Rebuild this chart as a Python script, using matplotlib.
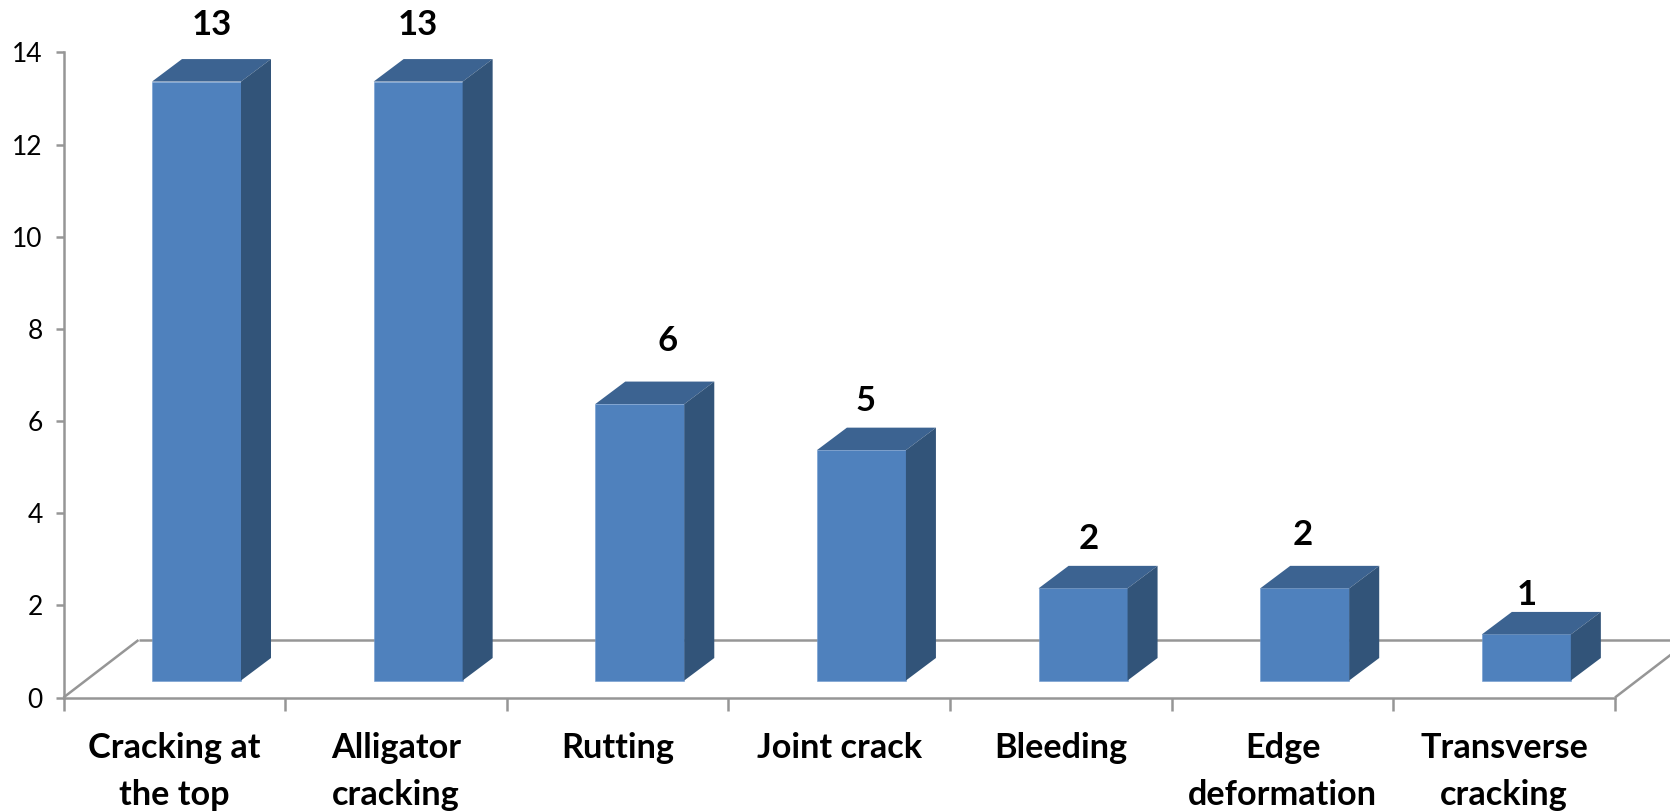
import matplotlib.pyplot as plt

# Distress types and number of occurrences
categories = ['Cracking at\nthe top', 'Alligator\ncracking', 'Rutting', 'Joint crack',
              'Bleeding', 'Edge\ndeformation', 'Transverse\ncracking']
counts = [13, 13, 6, 5, 2, 2, 1]
y_ticks = [0, 2, 4, 6, 8, 10, 12, 14]

# Pixel sizes of the figure and of the plot box
W, H = 1670, 811
X0, X1 = 63.5, 1615
Y0, Y14 = 697.5, 52.5
UX = (X1 - X0) / 7
UY = (Y0 - Y14) / 14

# Fake 3D depth, converted to data units
DX = 30 / UX
DY = 22.5 / UY
BASE = 17 / UY        # front face floats above the axis
BAR_W = 89 / UX
BAR_OFF = 88.5 / UX

FRONT = '#4f81bd'
TOP = '#3c6391'
SIDE = '#325479'
GREY = '#969696'

# Label nudges in pixels, (right, up) from the bar's top centre
label_dx = [0, -15, 13, -11, -9, -17, -15]
label_dy = [57, 57, 63, 49, 49, 53, 39]

plt.rcParams['font.family'] = ['Lato', 'DejaVu Sans']

fig = plt.figure(figsize=(W / 100, H / 100), dpi=100)
ax = fig.add_axes([X0 / W, (H - Y0) / H, (X1 - X0) / W, (Y0 - Y14) / H])
ax.set_xlim(0, 7)
ax.set_ylim(0, 14)

for s in ['top', 'right']:
    ax.spines[s].set_visible(False)
for s in ['left', 'bottom']:
    ax.spines[s].set_color(GREY)
    ax.spines[s].set_linewidth(1.8)

# Floor of the box
back_y = (Y0 - 640) / UY
floor_dx = 75 / UX
line_kw = dict(color=GREY, lw=1.8, clip_on=False, zorder=1, solid_capstyle='butt')
ax.plot([0, floor_dx], [0, back_y], **line_kw)
ax.plot([7, 7 + floor_dx], [0, back_y], **line_kw)
ax.plot([floor_dx, 7 + floor_dx], [back_y, back_y], **line_kw)

for i, v in enumerate(counts):
    x = i + BAR_OFF
    top = BASE + v
    ax.bar(x, v, width=BAR_W, bottom=BASE, align='edge', color=FRONT,
           edgecolor='#6f9bd0', linewidth=0.4, zorder=3, clip_on=False)
    ax.fill([x, x + DX, x + BAR_W + DX, x + BAR_W], [top, top + DY, top + DY, top],
            color=TOP, lw=0, zorder=3, clip_on=False)
    ax.fill([x + BAR_W, x + BAR_W + DX, x + BAR_W + DX, x + BAR_W],
            [BASE, BASE + DY, top + DY, top], color=SIDE, lw=0, zorder=3, clip_on=False)
    ax.annotate(str(v), xy=(x + BAR_W / 2 + DX / 2, top),
                xytext=(label_dx[i] * 0.72, label_dy[i] * 0.72), textcoords='offset points',
                ha='center', va='center', fontsize=25, fontweight='bold',
                color='black', annotation_clip=False)

ax.set_yticks(y_ticks)
ax.tick_params(axis='y', length=6, width=1.8, color=GREY, pad=9, labelsize=19)

ax.set_xticks(range(8))
ax.set_xticklabels([])
ax.tick_params(axis='x', which='major', length=9, width=1.8, color=GREY)
ax.set_xticks([i + 0.5 for i in range(7)], minor=True)
ax.set_xticklabels(categories, minor=True, fontsize=24.7, fontweight='bold', linespacing=1.56)
ax.tick_params(axis='x', which='minor', length=0, pad=25)

fig.savefig('out.png', dpi=100)
